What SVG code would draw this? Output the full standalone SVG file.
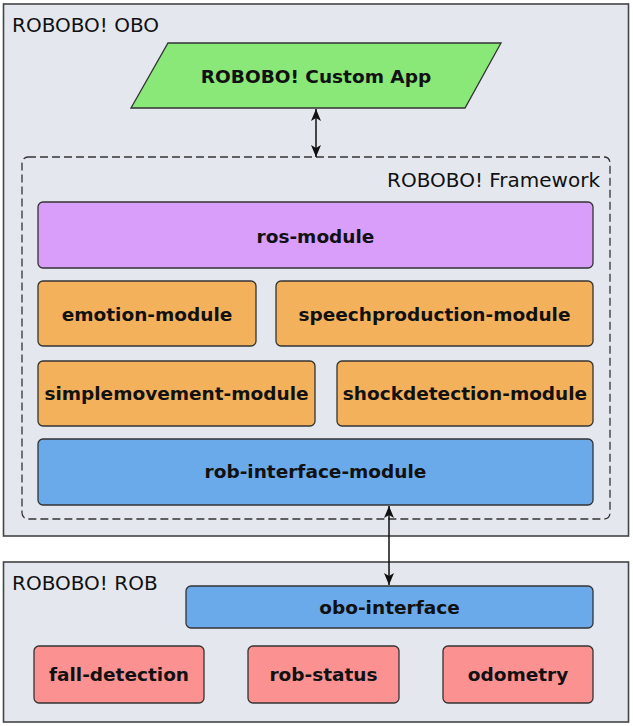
<svg xmlns="http://www.w3.org/2000/svg" width="633" height="726" viewBox="0 0 633 726">
<defs>
<marker id="ah" viewBox="0 0 12 10" refX="12" refY="5" markerWidth="12" markerHeight="10" markerUnits="userSpaceOnUse" orient="auto-start-reverse">
<path d="M0,0 L12,5 L0,10 L3,5 Z" fill="#111"/>
</marker>
<style>
.cont{fill:#e4e8ee;stroke:#444;stroke-width:1.6}
.frame{fill:none;stroke:#333;stroke-width:1.3;stroke-dasharray:8,4}
.box{stroke:#333;stroke-width:1.3}
.lbl{font-family:"DejaVu Sans",sans-serif;font-size:20px;fill:#111}
.t{font-family:"DejaVu Sans",sans-serif;font-size:18.5px;font-weight:bold;fill:#111;text-anchor:middle;dominant-baseline:central}
.conn{stroke:#111;stroke-width:1.5;fill:none}
</style>
</defs>
<g id="obo">
<rect class="cont" x="3.5" y="4" width="625" height="532"/>
<text class="lbl" x="12" y="32">ROBOBO! OBO</text>
</g>
<g id="app">
<polygon class="box" fill="#89e878" points="168,43 501,43 465,108 131,108"/>
<text class="t" x="316" y="76">ROBOBO! Custom App</text>
</g>
<g id="framework">
<rect class="frame" x="22" y="157" width="588" height="362" rx="6"/>
<text class="lbl" x="600" y="187" text-anchor="end">ROBOBO! Framework</text>
</g>
<g id="ros-module">
<rect class="box" fill="#d89efa" x="38" y="202" width="555" height="66" rx="5"/>
<text class="t" x="315.5" y="236">ros-module</text>
</g>
<g id="emotion-module">
<rect class="box" fill="#f4b15c" x="38" y="281" width="218" height="65" rx="5"/>
<text class="t" x="147" y="314">emotion-module</text>
</g>
<g id="speechproduction-module">
<rect class="box" fill="#f4b15c" x="276" y="281" width="317" height="65" rx="5"/>
<text class="t" x="434.5" y="314">speechproduction-module</text>
</g>
<g id="simplemovement-module">
<rect class="box" fill="#f4b15c" x="38" y="361" width="277" height="65" rx="5"/>
<text class="t" x="176.5" y="393">simplemovement-module</text>
</g>
<g id="shockdetection-module">
<rect class="box" fill="#f4b15c" x="337" y="361" width="256" height="65" rx="5"/>
<text class="t" x="465" y="393">shockdetection-module</text>
</g>
<g id="rob-interface-module">
<rect class="box" fill="#6aa9ea" x="38" y="439" width="555" height="66" rx="5"/>
<text class="t" x="315.5" y="471">rob-interface-module</text>
</g>
<g id="rob">
<rect class="cont" x="3.5" y="562" width="625" height="160"/>
<text class="lbl" x="12" y="590">ROBOBO! ROB</text>
</g>
<g id="obo-interface">
<rect class="box" fill="#6aa9ea" x="186" y="586" width="407" height="42" rx="5"/>
<text class="t" x="389.5" y="607">obo-interface</text>
</g>
<g id="fall-detection">
<rect class="box" fill="#fc9191" x="34" y="646" width="170" height="57" rx="5"/>
<text class="t" x="119" y="674">fall-detection</text>
</g>
<g id="rob-status">
<rect class="box" fill="#fc9191" x="248" y="646" width="151" height="57" rx="5"/>
<text class="t" x="323.5" y="674">rob-status</text>
</g>
<g id="odometry">
<rect class="box" fill="#fc9191" x="443" y="646" width="150" height="57" rx="5"/>
<text class="t" x="518" y="674">odometry</text>
</g>
<g id="connectors">
<line class="conn" x1="316" y1="109" x2="316" y2="157" marker-start="url(#ah)" marker-end="url(#ah)"/>
<line class="conn" x1="389" y1="506" x2="389" y2="585" marker-start="url(#ah)" marker-end="url(#ah)"/>
</g>
</svg>
